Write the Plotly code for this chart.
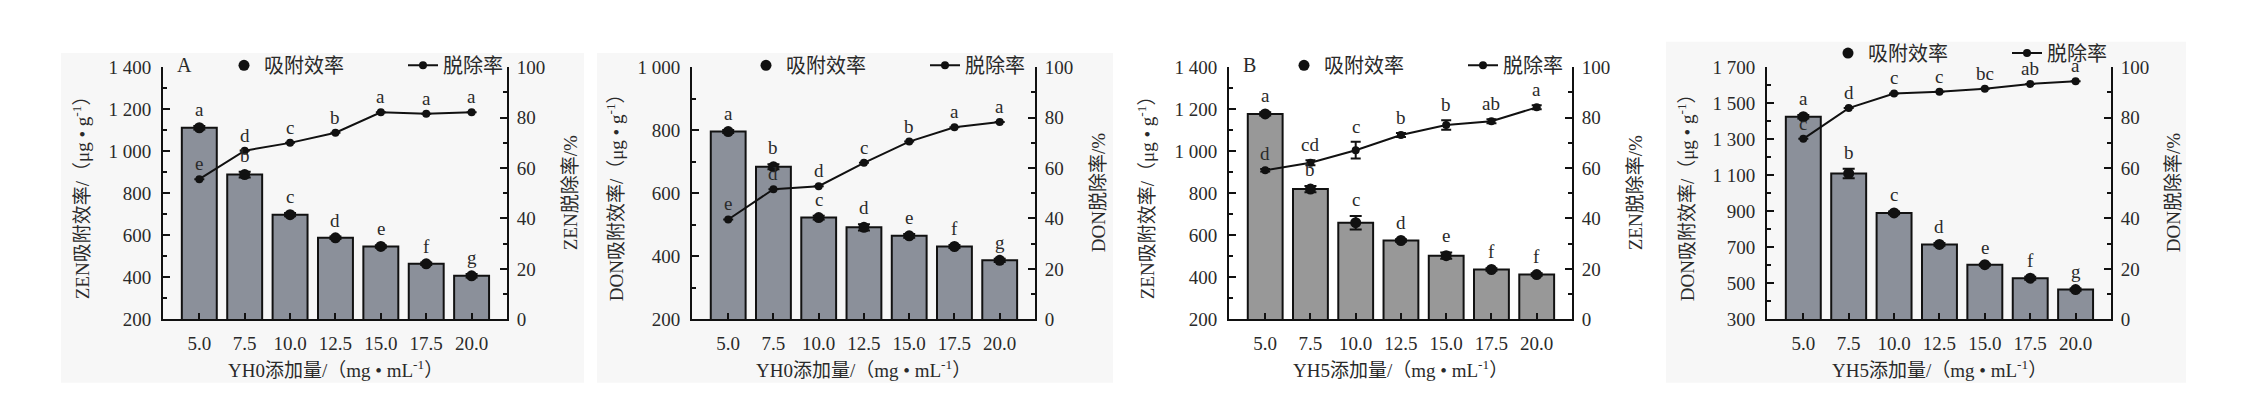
import plotly.graph_objects as go

# ---------------- data ----------------
categories = ["5.0", "7.5", "10.0", "12.5", "15.0", "17.5", "20.0"]

# Panel A: ZEN, YH0
zen_yh0_ads = [1112, 889, 698, 588, 547, 464, 407]
zen_yh0_ads_err = [8, 14, 8, 6, 6, 6, 8]
zen_yh0_rem = [55.6, 66.9, 70.0, 74.0, 82.1, 81.6, 82.1]
zen_yh0_rem_err = [0, 0, 0, 0, 0, 0, 0]
zen_yh0_ads_letters = ["a", "b", "c", "d", "e", "f", "g"]
zen_yh0_rem_letters = ["e", "d", "c", "b", "a", "a", "a"]

# Panel: DON, YH0
don_yh0_ads = [796, 684, 523, 492, 465, 431, 387]
don_yh0_ads_err = [5, 8, 6, 10, 6, 5, 5]
don_yh0_rem = [39.6, 51.6, 52.8, 62.1, 70.5, 76.2, 78.3]
don_yh0_rem_err = [0, 0, 0, 0, 0, 0, 0]
don_yh0_ads_letters = ["a", "b", "c", "d", "e", "f", "g"]
don_yh0_rem_letters = ["e", "d", "d", "c", "b", "a", "a"]

# Panel B: ZEN, YH5
zen_yh5_ads = [1178, 820, 660, 575, 503, 437, 413]
zen_yh5_ads_err = [8, 15, 32, 6, 15, 6, 6]
zen_yh5_rem = [59.1, 62.1, 67.1, 73.1, 77.1, 78.6, 84.1]
zen_yh5_rem_err = [0.5, 1.0, 3.3, 0.8, 1.9, 0.8, 0.8]
zen_yh5_ads_letters = ["a", "b", "c", "d", "e", "f", "f"]
zen_yh5_rem_letters = ["d", "cd", "c", "b", "b", "ab", "a"]

# Panel: DON, YH5
don_yh5_ads = [1425, 1110, 891, 716, 603, 528, 465]
don_yh5_ads_err = [10, 26, 8, 8, 6, 8, 6]
don_yh5_rem = [71.6, 83.8, 89.6, 90.3, 91.5, 93.4, 94.4]
don_yh5_rem_err = [0, 0, 0, 0, 0, 0, 0]
don_yh5_ads_letters = ["a", "b", "c", "d", "e", "f", "g"]
don_yh5_rem_letters = ["c", "d", "c", "c", "bc", "ab", "a"]

legend_names = ["吸附效率", "脱除率"]

# ---------------- layout helpers ----------------
W, H = 2254, 399
FONT = "Liberation Serif, 'Times New Roman', 'Noto Sans CJK SC', serif"
TXT = "#2a2a2a"
PLOT_TOP, PLOT_BOT = 52, 318


def fx(p):
    return p / W


def fy(p):
    return 1 - p / H


panels = [
    dict(ads=zen_yh0_ads, ads_err=zen_yh0_ads_err, rem=zen_yh0_rem, rem_err=zen_yh0_rem_err,
         la=zen_yh0_ads_letters, lr=zen_yh0_rem_letters, lrange=[200, 1400], ldtick=200,
         ltitle="ZEN吸附效率/（μg • g<sup>-1</sup>）", rtitle="ZEN脱除率/%",
         xtitle="YH0添加量/（mg • mL<sup>-1</sup>）", x0=155, x1=499, lt=73, rt=562,
         bar="#8b909a", tag="A", legx=240, legy=50, bg=(53, 576, 37, 385)),
    dict(ads=don_yh0_ads, ads_err=don_yh0_ads_err, rem=don_yh0_rem, rem_err=don_yh0_rem_err,
         la=don_yh0_ads_letters, lr=don_yh0_rem_letters, lrange=[200, 1000], ldtick=200,
         ltitle="DON吸附效率/（μg • g<sup>-1</sup>）", rtitle="DON脱除率/%",
         xtitle="YH0添加量/（mg • mL<sup>-1</sup>）", x0=684, x1=1027, lt=607, rt=1090,
         bar="#8b909a", tag=None, legx=762, legy=50, bg=(589, 1105, 37, 385)),
    dict(ads=zen_yh5_ads, ads_err=zen_yh5_ads_err, rem=zen_yh5_rem, rem_err=zen_yh5_rem_err,
         la=zen_yh5_ads_letters, lr=zen_yh5_rem_letters, lrange=[200, 1400], ldtick=200,
         ltitle="ZEN吸附效率/（μg • g<sup>-1</sup>）", rtitle="ZEN脱除率/%",
         xtitle="YH5添加量/（mg • mL<sup>-1</sup>）", x0=1221, x1=1564, lt=1138, rt=1627,
         bar="#989898", tag="B", legx=1300, legy=50, bg=None),
    dict(ads=don_yh5_ads, ads_err=don_yh5_ads_err, rem=don_yh5_rem, rem_err=don_yh5_rem_err,
         la=don_yh5_ads_letters, lr=don_yh5_rem_letters, lrange=[300, 1700], ldtick=200,
         ltitle="DON吸附效率/（μg • g<sup>-1</sup>）", rtitle="DON脱除率/%",
         xtitle="YH5添加量/（mg • mL<sup>-1</sup>）", x0=1759, x1=2103, lt=1678, rt=2165,
         bar="#8b909a", tag=None, legx=1844, legy=37, bg=(1658, 2178, 25, 385)),
]

fig = go.Figure()
layout = dict(
    width=W, height=H, margin=dict(l=0, r=0, t=0, b=0),
    paper_bgcolor="white", plot_bgcolor="rgba(0,0,0,0)",
    font=dict(family=FONT, size=19, color=TXT),
    separators=". ", bargap=0.23, showlegend=True,
)
annotations = []
shapes = []

for i, p in enumerate(panels):
    k = i + 1
    xname = "x" if k == 1 else f"x{k}"
    yl = 2 * i + 1
    yr = 2 * i + 2
    ylname = "y" if yl == 1 else f"y{yl}"
    yrname = f"y{yr}"
    legname = "legend" if k == 1 else f"legend{k}"

    if p["bg"]:
        bx0, bx1, by0, by1 = p["bg"]
        shapes.append(dict(type="rect", xref="paper", yref="paper", x0=fx(bx0), x1=fx(bx1),
                           y0=fy(by1), y1=fy(by0), fillcolor="#f7f7f7", line=dict(width=0),
                           layer="below"))

    fig.add_trace(go.Bar(x=categories, y=p["ads"], xaxis=xname, yaxis=ylname,
                         marker=dict(color=p["bar"], line=dict(color="#111", width=2)),
                         showlegend=False, hoverinfo="skip"))
    fig.add_trace(go.Scatter(x=categories, y=p["ads"], xaxis=xname, yaxis=ylname,
                             mode="markers", name=legend_names[0], legend=legname,
                             marker=dict(color="#111", size=11),
                             error_y=dict(type="data", array=p["ads_err"], color="#111",
                                          thickness=2, width=6)))
    fig.add_trace(go.Scatter(x=categories, y=p["rem"], xaxis=xname, yaxis=yrname,
                             mode="lines+markers", name=legend_names[1], legend=legname,
                             line=dict(color="#111", width=2),
                             marker=dict(color="#111", size=8),
                             error_y=dict(type="data", array=p["rem_err"], color="#111",
                                          thickness=2, width=5)))

    xdom = [fx(p["x0"]), fx(p["x1"])]
    ydom = [fy(PLOT_BOT), fy(PLOT_TOP)]
    xkey = "xaxis" if k == 1 else f"xaxis{k}"
    layout[xkey] = dict(
        domain=xdom, anchor=ylname, type="category", range=[-0.8, 6.78],
        categoryorder="array", categoryarray=categories,
        showline=True, linecolor="#111", linewidth=2, ticks="inside", ticklen=6,
        tickwidth=2, tickcolor="#111", tickfont=dict(size=19, color=TXT),
        ticklabelstandoff=6, showgrid=False, zeroline=False, fixedrange=True,
    )
    ylkey = "yaxis" if yl == 1 else f"yaxis{yl}"
    layout[ylkey] = dict(
        domain=ydom, anchor=xname, range=p["lrange"], dtick=p["ldtick"],
        tick0=p["lrange"][0],
        showline=True, linecolor="#111", linewidth=2, ticks="inside", ticklen=7,
        tickwidth=2, tickcolor="#111", separatethousands=True,
        minor=dict(dtick=p["ldtick"] / 2, ticks="inside", ticklen=4, tickwidth=2,
                   tickcolor="#111", showgrid=False),
        tickfont=dict(size=19, color=TXT), ticklabelstandoff=6,
        showgrid=False, zeroline=False, fixedrange=True,
    )
    layout[f"yaxis{yr}"] = dict(
        domain=ydom, anchor=xname, overlaying=ylname, side="right", range=[0, 100],
        dtick=20, showline=True, linecolor="#111", linewidth=2, ticks="inside",
        ticklen=7, tickwidth=2, tickcolor="#111",
        minor=dict(dtick=10, ticks="inside", ticklen=4, tickwidth=2, tickcolor="#111",
                   showgrid=False),
        tickfont=dict(size=19, color=TXT), ticklabelstandoff=4,
        showgrid=False, zeroline=False, fixedrange=True,
    )
    layout[legname] = dict(
        orientation="h", x=fx(p["legx"] - 24), xanchor="left",
        y=fy(p["legy"]), yanchor="middle", bgcolor="rgba(0,0,0,0)",
        font=dict(size=20, color=TXT), itemwidth=30, traceorder="normal",
        entrywidth=134, entrywidthmode="pixels",
    )

    # significance letters (positioned by category index on the category axis)
    for j, (v, e, t) in enumerate(zip(p["ads"], p["ads_err"], p["la"])):
        annotations.append(dict(x=j, y=v + e, xref=xname, yref=ylname, text=t,
                                showarrow=False, yanchor="bottom", yshift=4,
                                font=dict(size=19, color=TXT)))
    for j, (v, e, t) in enumerate(zip(p["rem"], p["rem_err"], p["lr"])):
        annotations.append(dict(x=j, y=v + e, xref=xname, yref=yrname, text=t,
                                showarrow=False, yanchor="bottom", yshift=3,
                                font=dict(size=19, color=TXT)))

    # axis titles
    ymid = fy((PLOT_TOP + PLOT_BOT) / 2)
    annotations.append(dict(x=fx(p["lt"]), y=ymid, xref="paper", yref="paper",
                            text=p["ltitle"], textangle=-90, showarrow=False,
                            xanchor="center", yanchor="middle",
                            font=dict(size=19, color=TXT)))
    annotations.append(dict(x=fx(p["rt"]), y=ymid, xref="paper", yref="paper",
                            text=p["rtitle"], textangle=-90, showarrow=False,
                            xanchor="center", yanchor="middle",
                            font=dict(size=19, color=TXT)))
    annotations.append(dict(x=fx((p["x0"] + p["x1"]) / 2), y=fy(370), xref="paper",
                            yref="paper", text=p["xtitle"], showarrow=False,
                            xanchor="center", yanchor="middle",
                            font=dict(size=19, color=TXT)))
    if p["tag"]:
        annotations.append(dict(x=fx(p["x0"] + 12), y=fy(50), xref="paper", yref="paper",
                                text=p["tag"], showarrow=False, xanchor="left",
                                yanchor="middle", font=dict(size=20, color=TXT)))

layout["annotations"] = annotations
layout["shapes"] = shapes
fig.update_layout(**layout)
fig.write_html("out.html")
